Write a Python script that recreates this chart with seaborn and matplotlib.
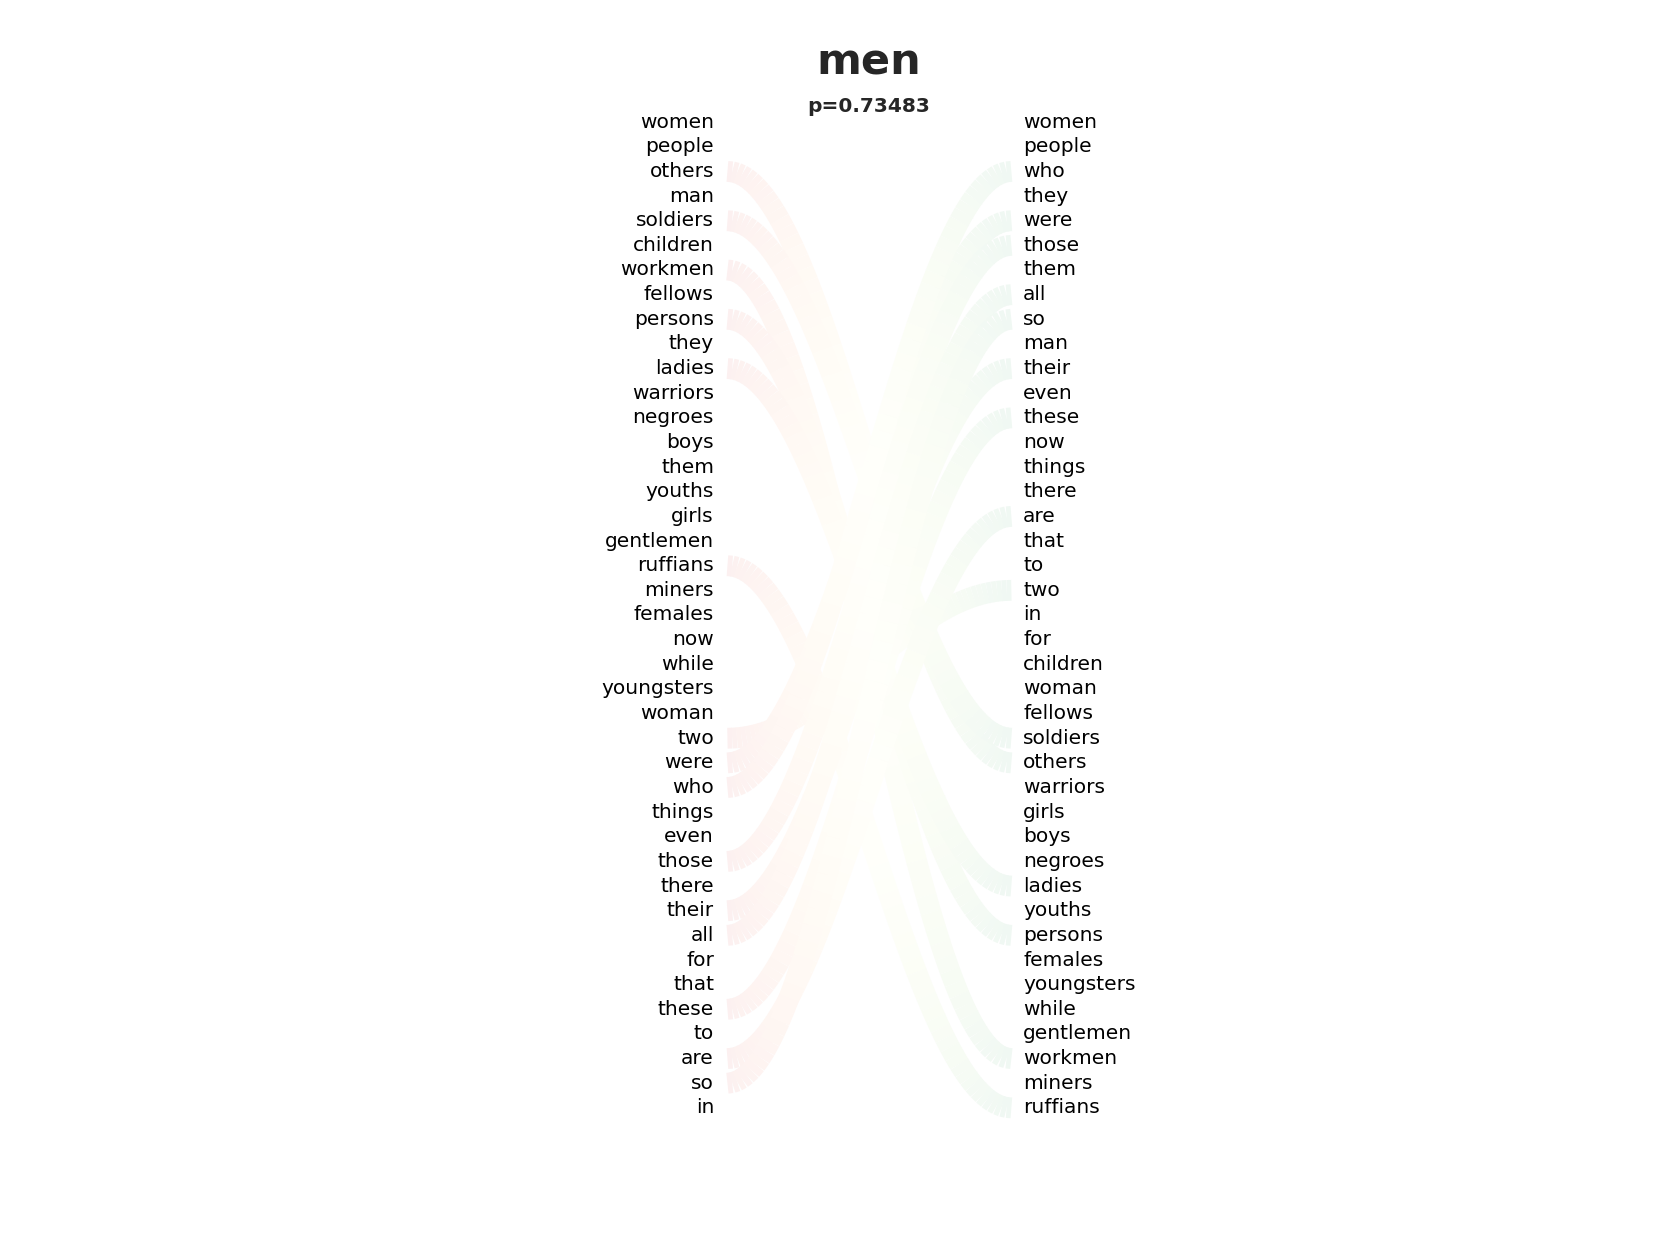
import matplotlib
matplotlib.use("Agg")
import matplotlib.pyplot as plt
import numpy as np
import seaborn as sns

title = "men"
subtitle = "p=0.73483"
left_words = ["women", "people", "others", "man", "soldiers", "children", "workmen", "fellows",
              "persons", "they", "ladies", "warriors", "negroes", "boys", "them", "youths", "girls",
              "gentlemen", "ruffians", "miners", "females", "now", "while", "youngsters", "woman",
              "two", "were", "who", "things", "even", "those", "there", "their", "all", "for",
              "that", "these", "to", "are", "so", "in"]
right_words = ["women", "people", "who", "they", "were", "those", "them", "all", "so", "man",
               "their", "even", "these", "now", "things", "there", "are", "that", "to", "two",
               "in", "for", "children", "woman", "fellows", "soldiers", "others", "warriors",
               "girls", "boys", "negroes", "ladies", "youths", "persons", "females", "youngsters",
               "while", "gentlemen", "workmen", "miners", "ruffians"]
# words that get a connecting band
linked = ["others", "soldiers", "workmen", "persons", "ladies", "ruffians", "two",
          "were", "who", "those", "their", "all", "these", "are", "so"]

sns.set_theme(style="white")
plt.rcParams['font.family'] = ['DejaVu Sans']

fig = plt.figure(figsize=(16.8, 12.6), dpi=100)
ax = fig.add_axes([0, 0, 1, 1])
ax.set_xlim(0, 1)
ax.set_ylim(0, 1)
ax.axis("off")

top, step = 1 - 114 / 1176, 23.0 / 1176
xl, xr = 0.425, 0.609
cx0, cx1 = 0.433, 0.602

def ypos(i):
    return top - i * step

for i, w in enumerate(left_words):
    ax.text(xl, ypos(i), w, ha="right", va="center", fontsize=14.5, color="black")
for i, w in enumerate(right_words):
    ax.text(xr, ypos(i), w, ha="left", va="center", fontsize=14.5, color="black")

cmap = sns.color_palette("RdYlGn", as_cmap=True)
a = 0.07
n = 60
for w in linked:
    y0 = ypos(left_words.index(w))
    y1 = ypos(right_words.index(w))
    t = np.linspace(0, 1, n + 1)
    xs = cx0 + (cx1 - cx0) * t
    ys = y0 + (y1 - y0) * (1 - np.cos(np.pi * t)) / 2
    for k in range(n):
        c = np.array(cmap(0.1 + 0.8 * (k / n))[:3])
        c = 1 - a + a * c
        ax.plot(xs[k:k + 2], ys[k:k + 2], color=c, lw=15, solid_capstyle="butt", zorder=1)

ax.text(0.517, 1 - 58 / 1176, title, ha="center", va="center", fontsize=31, fontweight="bold")
ax.text(0.517, 1 - 99 / 1176, subtitle, ha="center", va="center", fontsize=14.5, fontweight="bold")

fig.savefig("out.png", dpi=100)
